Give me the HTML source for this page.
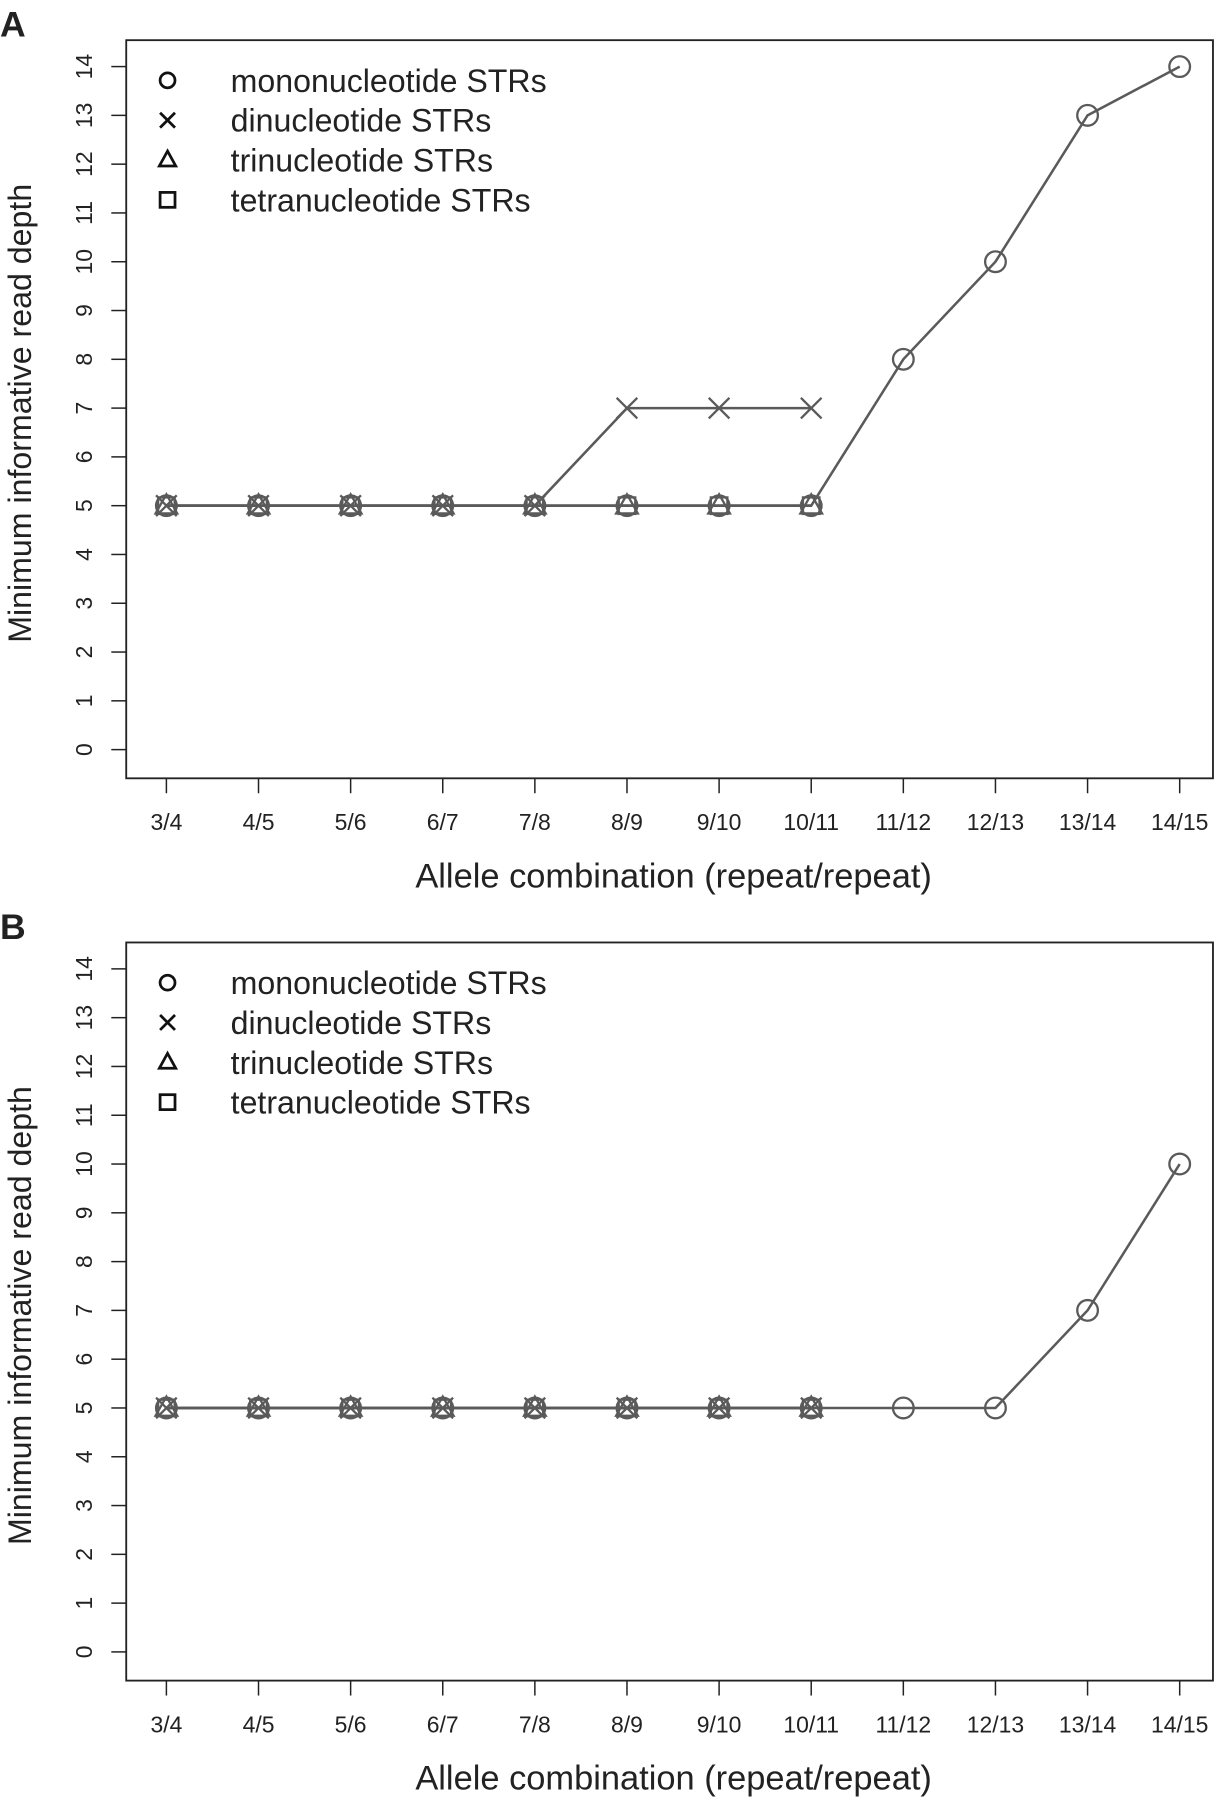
<!DOCTYPE html>
<html><head><meta charset="utf-8"><style>
html,body{margin:0;padding:0;background:#fff;}
svg{display:block;}
text{font-family:"Liberation Sans",sans-serif;fill:#222;}
</style></head><body>
<svg id="fig" width="1221" height="1800" viewBox="0 0 1064 1568" preserveAspectRatio="none" xmlns="http://www.w3.org/2000/svg"></svg>
<script>
const categories=["3/4","4/5","5/6","6/7","7/8","8/9","9/10","10/11","11/12","12/13","13/14","14/15"];
const yTicks=[0,1,2,3,4,5,6,7,8,9,10,11,12,13,14];
const seriesNames=["mononucleotide STRs","dinucleotide STRs","trinucleotide STRs","tetranucleotide STRs"];
const seriesKeys=["mono","di","tri","tetra"];
const aMono=[5,5,5,5,5,5,5,5,8,10,13,14];
const aDi=[5,5,5,5,5,7,7,7];
const aTri=[5,5,5,5,5,5,5,5];
const aTetra=[5,5,5,5,5,5,5,5];
const bMono=[5,5,5,5,5,5,5,5,5,5,7,10];
const bDi=[5,5,5,5,5,5,5,5];
const bTri=[5,5,5,5,5,5,5,5];
const bTetra=[5,5,5,5,5,5,5,5];

const NS="http://www.w3.org/2000/svg";
const svg=document.getElementById('fig');
function mk(tag,attrs,parent){const e=document.createElementNS(NS,tag);for(const k in attrs)e.setAttribute(k,attrs[k]);(parent||svg).appendChild(e);return e;}
const C="#5a5a5a";
function marker(g,type,x,y,r){
  if(type==="mono"){mk('circle',{cx:x,cy:y,r:r,fill:'none',stroke:C,'stroke-width':2},g);}
  else if(type==="di"){mk('path',{d:`M${x-r} ${y-r}L${x+r} ${y+r}M${x-r} ${y+r}L${x+r} ${y-r}`,stroke:C,'stroke-width':2},g);}
  else if(type==="tri"){mk('path',{d:`M${x} ${y-r*1.1}L${x+r*1.05} ${y+r*0.75}L${x-r*1.05} ${y+r*0.75}Z`,fill:'none',stroke:C,'stroke-width':2},g);}
  else {mk('rect',{x:x-r*0.8,y:y-r*0.8,width:r*1.6,height:r*1.6,fill:'none',stroke:C,'stroke-width':2},g);}
}
function panel(off,letter,data){
  const g=mk('g',{});
  
  
  const L=110,R=1057,T=35+off,B=678+off;
  const xs=i=>145+i*(1028-145)/(categories.length-1);
  const ys=v=>653+off-v*(653-58)/14;
  const lt=mk('text',{x:0,y:32+off,'font-size':31,'font-weight':'bold'},g);lt.textContent=letter;
  
  
  const box=mk('rect',{x:L,y:T,width:R-L,height:B-T,fill:'none',stroke:'#222','stroke-width':1.6},g);
  
  
  yTicks.forEach(v=>{
    mk('line',{x1:L,x2:L-13,y1:ys(v),y2:ys(v),stroke:'#222','stroke-width':1.3},g);
    const t=mk('text',{x:0,y:0,'font-size':20,'text-anchor':'middle',transform:`translate(80,${ys(v)}) rotate(-90)`},g);
    t.textContent=v;
    
    
  });
  categories.forEach((c,i)=>{
    mk('line',{x1:xs(i),x2:xs(i),y1:B,y2:B+13,stroke:'#222','stroke-width':1.3},g);
    const t=mk('text',{x:xs(i),y:723+off,'font-size':20,'text-anchor':'middle'},g);
    t.textContent=c;
    
    
  });
  const xt=mk('text',{x:587,y:773+off,'font-size':30,'text-anchor':'middle'},g);
  xt.textContent="Allele combination (repeat/repeat)";
  
  
  const yt=mk('text',{x:0,y:0,'font-size':28,'text-anchor':'middle',transform:`translate(27,${360+off}) rotate(-90)`},g);
  yt.textContent="Minimum informative read depth";
  
  
  [3,2,1,0].forEach(si=>{
    const vals=data[si];
    const sg=mk('g',{},g);
    
    
    const pts=vals.map((v,i)=>xs(i)+','+ys(v)).join(' ');
    mk('polyline',{points:pts,fill:'none',stroke:C,'stroke-width':2.2},sg);
    vals.forEach((v,i)=>marker(sg,seriesKeys[si],xs(i),ys(v),9));
  });
  seriesNames.forEach((n,i)=>{
    const y=70+off+i*34.7;
    const lg=mk('g',{},g);
    
    
    const ls=mk('g',{},lg);
    
    
    const type=seriesKeys[i],x=146,r=6.5;
    if(type==="mono")mk('circle',{cx:x,cy:y,r:r,fill:'none',stroke:'#111','stroke-width':2.4},ls);
    else if(type==="di")mk('path',{d:`M${x-r} ${y-r}L${x+r} ${y+r}M${x-r} ${y+r}L${x+r} ${y-r}`,stroke:'#111','stroke-width':2.4},ls);
    else if(type==="tri")mk('path',{d:`M${x} ${y-r*1.2}L${x+r*1.1} ${y+r*0.8}L${x-r*1.1} ${y+r*0.8}Z`,fill:'none',stroke:'#111','stroke-width':2.4},ls);
    else mk('rect',{x:x-r,y:y-r,width:2*r,height:2*r,fill:'none',stroke:'#111','stroke-width':2.4},ls);
    const t=mk('text',{x:201,y:y+10,'font-size':28},lg);
    t.textContent=n;
    
    
  });
}
panel(0,"A",[aMono,aDi,aTri,aTetra]);
panel(786,"B",[bMono,bDi,bTri,bTetra]);
</script>
</body></html>
